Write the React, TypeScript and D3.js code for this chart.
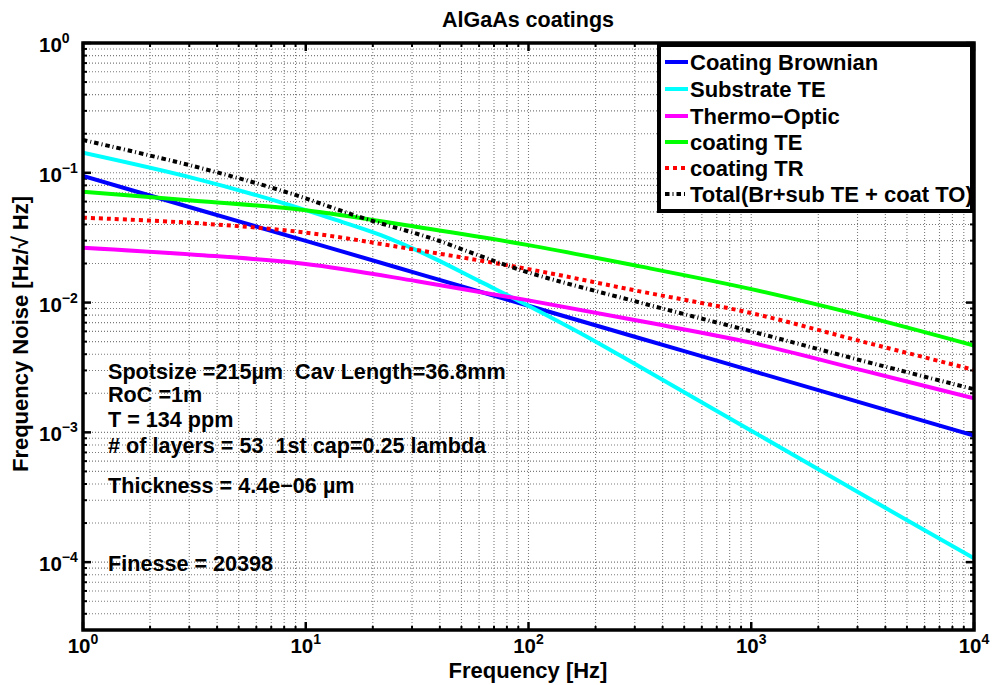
import React from 'react';
import * as d3 from 'd3';

const W = 992;
const H = 685;

// frequencies (Hz)
const freqs = [1, 3.162, 10, 31.62, 100, 316.2, 1000, 3162, 10000];
const substrateFreqs = [1, 3.162, 7.6, 12.8, 21.6, 36.3, 60.8, 101.8, 170.5, 316.2, 1000, 3162, 10000];
const totalFreqs = [1, 3.162, 8.33, 18, 36.2, 60.6, 101.7, 316.2, 1000, 3162, 10000];
// series values (Hz/sqrt(Hz))
const coatingBrownian = [0.0945, 0.0531, 0.0299, 0.0168, 0.00945, 0.00531, 0.00299, 0.00168, 0.000945];
const substrateTE = [0.1425, 0.0905, 0.0597, 0.0449, 0.0332, 0.0226, 0.0145, 0.0093, 0.00583, 0.0032, 0.00103, 0.00033, 0.000107];
const thermoOptic = [0.0265, 0.0234, 0.0198, 0.0146, 0.0104, 0.0072, 0.0049, 0.0030, 0.00183];
const coatingTE = [0.0714, 0.061, 0.0515, 0.0382, 0.0277, 0.019, 0.0127, 0.0079, 0.00467];
const coatingTR = [0.0451, 0.041, 0.0346, 0.0254, 0.0181, 0.0122, 0.0083, 0.005, 0.00303];
const total = [0.179, 0.112, 0.0703, 0.0449, 0.0315, 0.0229, 0.0169, 0.01, 0.006, 0.00356, 0.00215];

const seriesNames = [
  'Coating Brownian',
  'Substrate TE',
  'Thermo\u2212Optic',
  'coating TE',
  'coating TR',
  'Total(Br+sub TE + coat TO)',
];
const seriesValues = [coatingBrownian, substrateTE, thermoOptic, coatingTE, coatingTR, total];
const seriesFreqs = [freqs, substrateFreqs, freqs, freqs, freqs, totalFreqs];
const seriesColors = ['#0000ff', '#00ffff', '#ff00ff', '#00ff00', '#ff0000', '#000000'];
const seriesDash = ['', '', '', '', '4 4', '4.5 3 1 3'];

const xTickExps = [0, 1, 2, 3, 4];
const yTickExps = [-4, -3, -2, -1, 0];

const annotations = [
  'Spotsize =215\u00b5m  Cav Length=36.8mm',
  'RoC =1m',
  'T = 134 ppm',
  '# of layers = 53  1st cap=0.25 lambda',
  'Thickness = 4.4e\u221206 \u00b5m',
  'Finesse = 20398',
];
const annotationBaselines = [379, 402, 427, 453, 493, 571];

const FONT = '"Liberation Sans", Arial, Helvetica, sans-serif';

export default function App() {
  const left = 83, right = 974, top = 43, bottom = 630;
  const x = d3.scaleLog().domain([1, 1e4]).range([left, right]);
  const y = d3.scaleLog().domain([3e-5, 1]).range([bottom, top]);

  const xMinor: number[] = [];
  for (let e = 0; e < 4; e++) for (let m = 2; m <= 9; m++) xMinor.push(m * Math.pow(10, e));
  const yMinor: number[] = [];
  for (let e = -5; e < 0; e++)
    for (let m = 2; m <= 9; m++) {
      const v = m * Math.pow(10, e);
      if (v >= 3e-5) yMinor.push(v);
    }
  const xMajor = xTickExps.map((e) => Math.pow(10, e));
  const yMajor = yTickExps.map((e) => Math.pow(10, e));

  const makePath = (fs: number[], vals: number[]) =>
    d3
      .line<number>()
      .x((_, i) => x(fs[i]))
      .y((d) => y(d))
      .curve(d3.curveCatmullRom.alpha(0.5))(vals) || '';

  const gridStyle = { stroke: '#7a7a7a', strokeWidth: 1.1, strokeDasharray: '1 2' };

  const legX = 659, legY = 45, legW = 313, legH = 166;
  const legRowY = [62, 89, 116, 142, 168, 194];

  return (
    <svg width={W} height={H} style={{ position: 'absolute', left: 0, top: 0, background: '#fff' }} fontFamily={FONT} fontWeight="bold">
      <rect x={0} y={0} width={W} height={H} fill="#fff" />
      <defs>
        <clipPath id="plotclip">
          <rect x={left} y={top} width={right - left} height={bottom - top} />
        </clipPath>
        <clipPath id="legclip">
          <rect x={legX} y={legY} width={legW} height={legH} />
        </clipPath>
      </defs>
      {/* grid */}
      <g>
        {[...xMinor, ...xMajor].map((v, i) => (
          <line key={'gx' + i} x1={x(v)} x2={x(v)} y1={top} y2={bottom} {...gridStyle} />
        ))}
        {[...yMinor, ...yMajor].map((v, i) => (
          <line key={'gy' + i} y1={y(v)} y2={y(v)} x1={left} x2={right} {...gridStyle} />
        ))}
      </g>
      {/* ticks */}
      <g stroke="#000">
        {xMinor.map((v, i) => (
          <g key={'tx' + i} strokeWidth={2}>
            <line x1={x(v)} x2={x(v)} y1={bottom} y2={bottom - 4} />
            <line x1={x(v)} x2={x(v)} y1={top} y2={top + 4} />
          </g>
        ))}
        {xMajor.map((v, i) => (
          <g key={'txm' + i} strokeWidth={2.5}>
            <line x1={x(v)} x2={x(v)} y1={bottom} y2={bottom - 8} />
            <line x1={x(v)} x2={x(v)} y1={top} y2={top + 8} />
          </g>
        ))}
        {yMinor.map((v, i) => (
          <g key={'ty' + i} strokeWidth={2}>
            <line y1={y(v)} y2={y(v)} x1={left} x2={left + 4} />
            <line y1={y(v)} y2={y(v)} x1={right} x2={right - 4} />
          </g>
        ))}
        {yMajor.map((v, i) => (
          <g key={'tym' + i} strokeWidth={2.5}>
            <line y1={y(v)} y2={y(v)} x1={left} x2={left + 8} />
            <line y1={y(v)} y2={y(v)} x1={right} x2={right - 8} />
          </g>
        ))}
      </g>
      {/* series */}
      <g clipPath="url(#plotclip)" fill="none">
        {seriesValues.map((vals, i) => (
          <path
            key={'s' + i}
            d={makePath(seriesFreqs[i], vals)}
            stroke={seriesColors[i]}
            strokeWidth={4}
            strokeDasharray={seriesDash[i] || undefined}
          />
        ))}
      </g>
      {/* annotations */}
      <g fontSize={21.6} fill="#000">
        {annotations.map((t, i) => (
          <text key={'a' + i} x={108} y={annotationBaselines[i]} style={{ whiteSpace: 'pre' }}>
            {t}
          </text>
        ))}
      </g>
      {/* axes box */}
      <rect x={left} y={top} width={right - left} height={bottom - top} fill="none" stroke="#000" strokeWidth={3.5} />
      {/* legend */}
      <g>
        <rect x={legX} y={legY} width={legW} height={legH} fill="#fff" />
        <g clipPath="url(#legclip)">
          {seriesNames.map((n, i) => (
            <g key={'l' + i}>
              <line
                x1={665}
                x2={688}
                y1={legRowY[i]}
                y2={legRowY[i]}
                stroke={seriesColors[i]}
                strokeWidth={4}
                strokeDasharray={seriesDash[i] || undefined}
              />
              <text x={690} y={legRowY[i] + 8} fontSize={22} fill="#000">
                {n}
              </text>
            </g>
          ))}
        </g>
        <rect x={legX} y={legY} width={legW} height={legH} fill="none" stroke="#000" strokeWidth={4} />
      </g>
      {/* x tick labels */}
      <g fill="#000">
        {xTickExps.map((e) => (
          <text key={'xl' + e} x={x(Math.pow(10, e))} y={653} textAnchor="middle" fontSize={20.5}>
            10
            <tspan fontSize={14} dy={-9}>
              {String(e)}
            </tspan>
          </text>
        ))}
        {yTickExps.map((e) => (
          <text key={'yl' + e} x={39} y={y(Math.pow(10, e)) + 9} fontSize={20.5}>
            10
            <tspan fontSize={14} dy={-9}>
              {e < 0 ? '\u2212' + String(-e) : String(e)}
            </tspan>
          </text>
        ))}
      </g>
      {/* title & axis labels */}
      <text x={528} y={27} textAnchor="middle" fontSize={21.5} fill="#000">
        AlGaAs coatings
      </text>
      <text x={528} y={678} textAnchor="middle" fontSize={22} fill="#000">
        Frequency [Hz]
      </text>
      <text
        transform={`translate(28, 334) rotate(-90)`}
        textAnchor="middle"
        fontSize={22}
        fill="#000"
      >
        Frequency Noise [Hz/{'\u221a'} Hz]
      </text>
    </svg>
  );
}
